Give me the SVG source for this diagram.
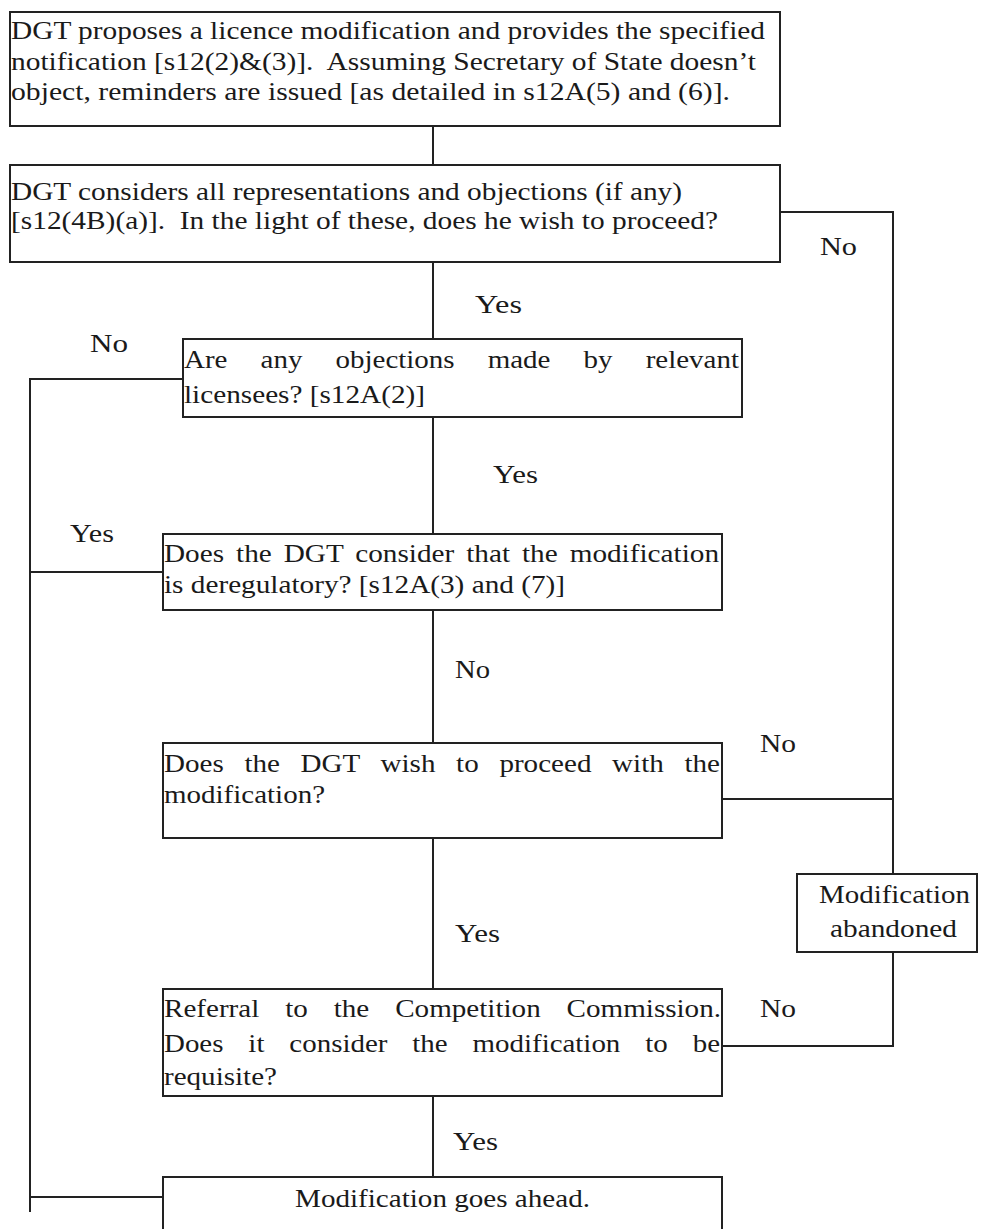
<svg xmlns="http://www.w3.org/2000/svg" width="981" height="1229" viewBox="0 0 981 1229">
<style>
.box{fill:#fff;stroke:#222;stroke-width:2}
.ln{fill:none;stroke:#222;stroke-width:2}
text{font-family:'Liberation Serif','Times New Roman',serif;font-size:25px;fill:#1a1a1a;white-space:pre}
</style>
<rect width="981" height="1229" fill="#fff"/>
<g id="connectors">
<path class="ln" d="M433,126 V165"/>
<path class="ln" d="M780,212 H893 V874"/>
<path class="ln" d="M722,799 H893"/>
<path class="ln" d="M893,952 V1046 H722"/>
<path class="ln" d="M433,262 V339"/>
<path class="ln" d="M183,379 H30 V1212"/>
<path class="ln" d="M163,572 H30"/>
<path class="ln" d="M433,417 V534"/>
<path class="ln" d="M433,610 V743"/>
<path class="ln" d="M433,838 V989"/>
<path class="ln" d="M433,1096 V1177"/>
<path class="ln" d="M163,1197 H30"/>
</g>
<g id="labels">
<text x="820" y="255" textLength="37" lengthAdjust="spacingAndGlyphs">No</text>
<text x="475" y="313" textLength="47" lengthAdjust="spacingAndGlyphs">Yes</text>
<text x="90" y="352" textLength="38" lengthAdjust="spacingAndGlyphs">No</text>
<text x="493" y="483" textLength="45" lengthAdjust="spacingAndGlyphs">Yes</text>
<text x="70" y="542" textLength="44" lengthAdjust="spacingAndGlyphs">Yes</text>
<text x="455" y="678" textLength="35" lengthAdjust="spacingAndGlyphs">No</text>
<text x="760" y="752" textLength="36" lengthAdjust="spacingAndGlyphs">No</text>
<text x="455" y="942" textLength="45" lengthAdjust="spacingAndGlyphs">Yes</text>
<text x="760" y="1017" textLength="36" lengthAdjust="spacingAndGlyphs">No</text>
<text x="453" y="1150" textLength="45" lengthAdjust="spacingAndGlyphs">Yes</text>
</g>
<g id="node1">
<rect class="box" x="10" y="12" width="770" height="114"/>
<text x="11" y="39" textLength="754" lengthAdjust="spacingAndGlyphs">DGT proposes a licence modification and provides the specified</text>
<text x="11" y="70" textLength="745" lengthAdjust="spacingAndGlyphs">notification [s12(2)&amp;(3)].  Assuming Secretary of State doesn’t</text>
<text x="11" y="100" textLength="719" lengthAdjust="spacingAndGlyphs">object, reminders are issued [as detailed in s12A(5) and (6)].</text>
</g>
<g id="node2">
<rect class="box" x="10" y="165" width="770" height="97"/>
<text x="11" y="200" textLength="671" lengthAdjust="spacingAndGlyphs">DGT considers all representations and objections (if any)</text>
<text x="11" y="229" textLength="707" lengthAdjust="spacingAndGlyphs">[s12(4B)(a)].  In the light of these, does he wish to proceed?</text>
</g>
<g id="node3">
<rect class="box" x="183" y="339" width="559" height="78"/>
<text x="184" y="368" textLength="555" lengthAdjust="spacingAndGlyphs" word-spacing="22.3">Are any objections made by relevant</text>
<text x="184" y="403" textLength="241" lengthAdjust="spacingAndGlyphs">licensees? [s12A(2)]</text>
</g>
<g id="node4">
<rect class="box" x="163" y="534" width="559" height="76"/>
<text x="164" y="562" textLength="555" lengthAdjust="spacingAndGlyphs" word-spacing="4">Does the DGT consider that the modification</text>
<text x="164" y="593" textLength="401" lengthAdjust="spacingAndGlyphs">is deregulatory? [s12A(3) and (7)]</text>
</g>
<g id="node5">
<rect class="box" x="163" y="743" width="559" height="95"/>
<text x="164" y="772" textLength="556" lengthAdjust="spacingAndGlyphs" word-spacing="11.5">Does the DGT wish to proceed with the</text>
<text x="164" y="803" textLength="161" lengthAdjust="spacingAndGlyphs">modification?</text>
</g>
<g id="node6">
<rect class="box" x="163" y="989" width="559" height="107"/>
<text x="164" y="1017" textLength="557" lengthAdjust="spacingAndGlyphs" word-spacing="16">Referral to the Competition Commission.</text>
<text x="164" y="1052" textLength="556" lengthAdjust="spacingAndGlyphs" word-spacing="15.3">Does it consider the modification to be</text>
<text x="164" y="1085" textLength="113" lengthAdjust="spacingAndGlyphs">requisite?</text>
</g>
<g id="node7">
<rect class="box" x="163" y="1177" width="559" height="80"/>
<text x="295" y="1207" textLength="295" lengthAdjust="spacingAndGlyphs">Modification goes ahead.</text>
</g>
<g id="node8">
<rect class="box" x="797" y="874" width="180" height="78"/>
<text x="819" y="903" textLength="151" lengthAdjust="spacingAndGlyphs">Modification</text>
<text x="830" y="937" textLength="127" lengthAdjust="spacingAndGlyphs">abandoned</text>
</g>
</svg>
